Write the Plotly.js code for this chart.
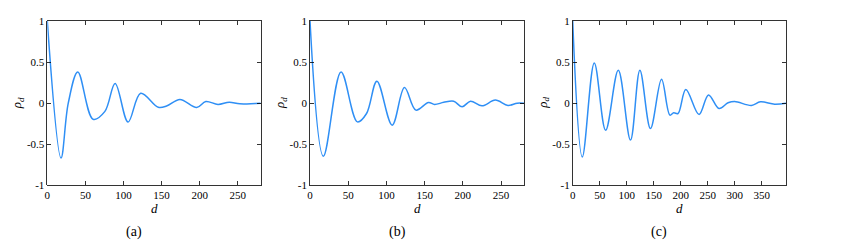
<!DOCTYPE html>
<html>
<head>
<meta charset="utf-8">
<script src="https://cdn.plot.ly/plotly-3.0.1.min.js"></script>
<style>html,body{margin:0;padding:0;background:#fff;}#chart{width:842px;height:251px;}</style>
</head>
<body>
<div id="chart"></div>
<script>
// Panel (a)
const dA   = [0, 18, 27.5, 40, 60, 75.6, 89, 106, 122.5, 145.6, 156.5, 174, 196, 208, 224, 238.7, 252.6, 280];
const rhoA = [1, -0.667, 0, 0.38, -0.195, -0.1, 0.24, -0.23, 0.12, -0.05, -0.035, 0.045, -0.053, 0.02, -0.016, 0.012, -0.008, 0];
// Panel (b)
const dB   = [0, 17.5, 40.6, 62, 74, 87.5, 107.5, 123.6, 138.5, 155, 163, 175, 188, 199, 210, 225, 242.5, 259, 271, 280];
const rhoB = [1, -0.646, 0.38, -0.228, -0.126, 0.268, -0.268, 0.19, -0.085, 0.008, -0.016, 0.01, 0.024, -0.045, 0.024, -0.033, 0.037, -0.028, 0, 0];
// Panel (c)
const dC   = [0, 17.8, 40, 61, 84.4, 107, 124.4, 144, 164.5, 180, 187, 195, 209.5, 234, 251.5, 271, 287.7, 300, 331, 347.6, 374, 395];
const rhoC = [1, -0.655, 0.49, -0.33, 0.40, -0.45, 0.40, -0.31, 0.29, -0.146, -0.118, -0.126, 0.167, -0.138, 0.10, -0.065, 0.004, 0.02, -0.028, 0.016, -0.012, 0];

const yTicks = [-1, -0.5, 0, 0.5, 1];
const yTickText = ['-1', '-0.5', '0', '0.5', '1'];
const captions = ['(a)', '(b)', '(c)'];

const lineStyle = {color: '#2f8ff5', width: 1.5, shape: 'spline', smoothing: 1};
const traces = [
  {x: dA, y: rhoA, xaxis: 'x', yaxis: 'y', mode: 'lines', line: lineStyle, hoverinfo: 'skip'},
  {x: dB, y: rhoB, xaxis: 'x2', yaxis: 'y2', mode: 'lines', line: lineStyle, hoverinfo: 'skip'},
  {x: dC, y: rhoC, xaxis: 'x3', yaxis: 'y3', mode: 'lines', line: lineStyle, hoverinfo: 'skip'}
];

const serif = 'Liberation Serif';
const font = {family: serif, size: 11, color: '#000'};
const domY = [1 - 185.3/251, 1 - 21/251];
const doms = [[47.3/842, 260.7/842], [310/842, 524/842], [572.7/842, 786/842]];
const ranges = [[0, 280], [0, 280], [0, 395]];

function xax(i, anchor) {
  return {domain: doms[i], range: ranges[i], anchor: anchor, tick0: 0, dtick: 50,
    ticks: 'inside', ticklen: 4, tickwidth: 0.8, tickcolor: '#000', mirror: 'ticks',
    showline: true, linecolor: '#000', linewidth: 0.8, showgrid: false, zeroline: false,
    tickfont: font, fixedrange: true};
}
function yax(i, anchor) {
  return {domain: domY, range: [-1, 1], anchor: anchor, tickvals: yTicks, ticktext: yTickText,
    ticks: 'inside', ticklen: 4, tickwidth: 0.8, tickcolor: '#000', mirror: 'ticks',
    showline: true, linecolor: '#000', linewidth: 0.8, showgrid: false, zeroline: false,
    tickfont: font, fixedrange: true};
}

const annotations = [];
for (let i = 0; i < 3; i++) {
  const cx = (doms[i][0] + doms[i][1]) / 2;
  annotations.push({xref: 'paper', yref: 'paper', x: cx, y: 1 - 208/251, text: '<i>d</i>',
    showarrow: false, font: {family: serif, size: 13, color: '#000'}, xanchor: 'center', yanchor: 'middle'});
  annotations.push({xref: 'paper', yref: 'paper', x: doms[i][0] - 30/842, y: 1 - 103/251,
    text: '<i>ρ</i><sub><i>d</i></sub>', textangle: -90,
    showarrow: false, font: {family: serif, size: 13, color: '#000'}, xanchor: 'center', yanchor: 'middle'});
  annotations.push({xref: 'paper', yref: 'paper', x: [134, 397, 659][i]/842, y: 1 - 232/251, text: captions[i],
    showarrow: false, font: {family: serif, size: 14, color: '#000'}, xanchor: 'center', yanchor: 'middle'});
}

const layout = {
  width: 842, height: 251, margin: {l: 0, r: 0, t: 0, b: 0},
  paper_bgcolor: '#fff', plot_bgcolor: '#fff', showlegend: false, font: font,
  xaxis: xax(0, 'y'), yaxis: yax(0, 'x'),
  xaxis2: xax(1, 'y2'), yaxis2: yax(1, 'x2'),
  xaxis3: xax(2, 'y3'), yaxis3: yax(2, 'x3'),
  annotations: annotations
};

Plotly.newPlot('chart', traces, layout, {staticPlot: true, displayModeBar: false});
</script>
</body>
</html>
